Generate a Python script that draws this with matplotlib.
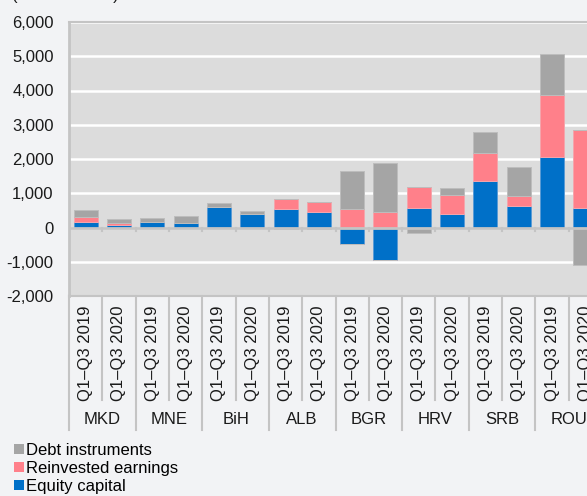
import numpy as np
import matplotlib.pyplot as plt
from matplotlib.transforms import blended_transform_factory

plt.rcParams['font.family'] = ['Liberation Sans', 'DejaVu Sans']

countries = ['MKD', 'MNE', 'BiH', 'ALB', 'BGR', 'HRV', 'SRB', 'ROU']
periods = ['Q1\u2013Q3 2019', 'Q1\u2013Q3 2020']

# EUR millions, one value per bar (country x period)
equity = [150, 70, 150, 120, 600, 380, 535, 455, -480, -935, 565, 380, 1350, 620, 2045, 575]
reinvested = [150, 65, 0, 0, 0, 0, 300, 285, 545, 440, 620, 565, 820, 290, 1830, 2285]
debt = [200, 100, 140, 220, 115, 95, -40, -30, 1100, 1450, -155, 195, 620, 855, 1205, -1100]

series = [('Equity capital', equity, '#0070C8', '#5B9BD5'),
          ('Reinvested earnings', reinvested, '#FF808A', '#F5A5AC'),
          ('Debt instruments', debt, '#A5A5A5', '#BDBDBD')]

fig_bg = '#F2F3F5'
ax_bg = '#DCDCDC'
line_c = '#C4C4C4'
fs = 12

fig = plt.figure(figsize=(5.87, 4.96), dpi=100, facecolor=fig_bg)
ax = fig.add_axes([69/587, 1-296/496, 533/587, 274/496])
ax.set_facecolor(ax_bg)

n = len(equity)
x = np.arange(n)
pos_base = np.zeros(n)
neg_base = np.zeros(n)
handles = []
for name, vals, col, edge in series:
    v = np.array(vals, dtype=float)
    p = np.where(v > 0, v, 0)
    m = np.where(v < 0, v, 0)
    h = ax.bar(x, p, 0.72, bottom=pos_base, color=col, edgecolor=edge, linewidth=0.7, zorder=3, label=name)
    ax.bar(x, m, 0.72, bottom=neg_base, color=col, edgecolor=edge, linewidth=0.7, zorder=3)
    pos_base += p
    neg_base += m
    handles.append(h)

ax.set_xlim(-0.5, n - 0.5)
ax.set_ylim(-2000, 6000)
ax.set_yticks(np.arange(-2000, 6001, 1000))
ax.set_yticklabels([f'{t:,}' for t in range(-2000, 6001, 1000)], fontsize=fs, color='#1a1a1a')
ax.tick_params(axis='y', length=0, pad=11)
ax.set_xticks([])
ax.yaxis.grid(True, color='white', linewidth=1.8, zorder=1)
ax.set_axisbelow(True)
for s in ax.spines.values():
    s.set_color(line_c)
    s.set_linewidth(1.5)
ax.spines['left'].set_linewidth(2)
ax.axhline(0, color=line_c, linewidth=2, zorder=4)

tr = blended_transform_factory(ax.transData, ax.transAxes)
y0 = 2000 / 8000
# small ticks on the zero line between bars
for k in range(n - 1):
    ax.plot([k + 0.5, k + 0.5], [y0, y0 - 0.012], color=line_c, linewidth=1.5, transform=tr, zorder=4)

# category axis below the plot
for k in range(n + 1):
    bottom = -0.489 if k % 2 == 0 else -0.38
    ax.plot([k - 0.5, k - 0.5], [0, bottom], color=line_c, linewidth=1.5,
            transform=tr, clip_on=False)
for k in range(n):
    ax.text(k, -0.035, periods[k % 2], rotation=90, ha='center', va='top',
            fontsize=fs, color='#1a1a1a', transform=tr)
for g, c in enumerate(countries):
    ax.text(2 * g + 0.5, -0.45, c, ha='center', va='center', fontsize=fs,
            color='#1a1a1a', transform=tr)

fig.text(12/587, 1.0, '(EUR millions)', ha='left', va='baseline', fontsize=fs, color='#1a1a1a')

leg = fig.legend(handles=handles[::-1], loc='upper left', bbox_to_anchor=(14/587, 1-443/496),
                 frameon=False, fontsize=fs, handlelength=0.6, handleheight=0.6,
                 handletextpad=0.12, labelspacing=0.17, borderaxespad=0, borderpad=0)
for h in leg.legend_handles:
    h.set_edgecolor('none')

fig.savefig('out.png', dpi=100, facecolor=fig_bg)
